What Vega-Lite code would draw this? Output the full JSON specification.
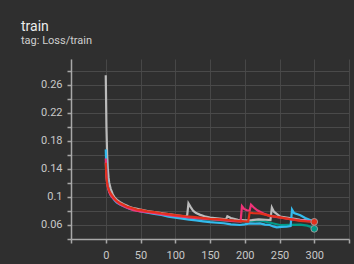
{
  "$schema": "https://vega.github.io/schema/vega-lite/v6.json",
  "width": 278,
  "height": 180,
  "autosize": {"type": "none"},
  "padding": {"left": 71, "top": 59, "right": 5, "bottom": 25},
  "background": "#2f2f2f",
  "config": {
    "font": "Roboto",
    "view": {"stroke": null},
    "axis": {
      "domainColor": "#a8a8a8",
      "domainWidth": 1.5,
      "tickColor": "#a8a8a8",
      "tickWidth": 1.5,
      "tickSize": 4,
      "gridColor": "#4a4a4a",
      "gridWidth": 1,
      "labelColor": "#c8c8c8",
      "labelFontSize": 11,
      "labelFont": "Roboto",
      "labelOverlap": false,
      "title": null
    }
  },
  "title": {
    "text": "train",
    "subtitle": "tag: Loss/train",
    "anchor": "start",
    "frame": "group",
    "dx": -50,
    "offset": 13,
    "fontSize": 14,
    "fontWeight": "normal",
    "color": "#ececec",
    "subtitleFontSize": 11,
    "subtitleColor": "#cfcfcf",
    "subtitlePadding": 1,
    "font": "Roboto",
    "subtitleFont": "Roboto"
  },
  "data": {
    "values": [
      {"run": "t", "step": 0, "loss": 0.15}, {"run": "t", "step": 1, "loss": 0.128}, {"run": "t", "step": 2, "loss": 0.12}, {"run": "t", "step": 3, "loss": 0.115}, {"run": "t", "step": 5, "loss": 0.108}, {"run": "t", "step": 10, "loss": 0.1}, {"run": "t", "step": 15, "loss": 0.095}, {"run": "t", "step": 20, "loss": 0.091}, {"run": "t", "step": 30, "loss": 0.086}, {"run": "t", "step": 40, "loss": 0.0825}, {"run": "t", "step": 50, "loss": 0.0805}, {"run": "t", "step": 60, "loss": 0.0785}, {"run": "t", "step": 70, "loss": 0.077}, {"run": "t", "step": 80, "loss": 0.0755}, {"run": "t", "step": 90, "loss": 0.074}, {"run": "t", "step": 100, "loss": 0.0725}, {"run": "t", "step": 120, "loss": 0.0705}, {"run": "t", "step": 140, "loss": 0.0685}, {"run": "t", "step": 160, "loss": 0.067}, {"run": "t", "step": 180, "loss": 0.0658}, {"run": "t", "step": 200, "loss": 0.065}, {"run": "t", "step": 210, "loss": 0.066}, {"run": "t", "step": 222, "loss": 0.0665}, {"run": "t", "step": 235, "loss": 0.0635}, {"run": "t", "step": 251, "loss": 0.06}, {"run": "t", "step": 265, "loss": 0.0602}, {"run": "t", "step": 280, "loss": 0.0605}, {"run": "t", "step": 290, "loss": 0.059}, {"run": "t", "step": 296, "loss": 0.057}, {"run": "t", "step": 300, "loss": 0.0545},

      {"run": "g", "step": 0, "loss": 0.274}, {"run": "g", "step": 1, "loss": 0.2}, {"run": "g", "step": 2, "loss": 0.16}, {"run": "g", "step": 3, "loss": 0.14}, {"run": "g", "step": 4, "loss": 0.128}, {"run": "g", "step": 5, "loss": 0.12}, {"run": "g", "step": 7, "loss": 0.112}, {"run": "g", "step": 10, "loss": 0.104}, {"run": "g", "step": 13, "loss": 0.099}, {"run": "g", "step": 16, "loss": 0.096}, {"run": "g", "step": 20, "loss": 0.093}, {"run": "g", "step": 25, "loss": 0.09}, {"run": "g", "step": 30, "loss": 0.088}, {"run": "g", "step": 35, "loss": 0.0855}, {"run": "g", "step": 40, "loss": 0.084}, {"run": "g", "step": 50, "loss": 0.082}, {"run": "g", "step": 60, "loss": 0.08}, {"run": "g", "step": 70, "loss": 0.0785}, {"run": "g", "step": 80, "loss": 0.077}, {"run": "g", "step": 90, "loss": 0.0755}, {"run": "g", "step": 100, "loss": 0.074}, {"run": "g", "step": 110, "loss": 0.0728}, {"run": "g", "step": 117, "loss": 0.0722}, {"run": "g", "step": 119, "loss": 0.091}, {"run": "g", "step": 122, "loss": 0.086}, {"run": "g", "step": 126, "loss": 0.08}, {"run": "g", "step": 130, "loss": 0.077}, {"run": "g", "step": 136, "loss": 0.0745}, {"run": "g", "step": 142, "loss": 0.0725}, {"run": "g", "step": 150, "loss": 0.0705}, {"run": "g", "step": 160, "loss": 0.0695}, {"run": "g", "step": 170, "loss": 0.0685}, {"run": "g", "step": 173, "loss": 0.068}, {"run": "g", "step": 175, "loss": 0.0725}, {"run": "g", "step": 180, "loss": 0.07}, {"run": "g", "step": 190, "loss": 0.0675}, {"run": "g", "step": 200, "loss": 0.0665}, {"run": "g", "step": 210, "loss": 0.067}, {"run": "g", "step": 220, "loss": 0.068}, {"run": "g", "step": 230, "loss": 0.0675}, {"run": "g", "step": 237, "loss": 0.067}, {"run": "g", "step": 239, "loss": 0.085}, {"run": "g", "step": 242, "loss": 0.079}, {"run": "g", "step": 246, "loss": 0.076}, {"run": "g", "step": 251, "loss": 0.072}, {"run": "g", "step": 260, "loss": 0.0705}, {"run": "g", "step": 270, "loss": 0.069}, {"run": "g", "step": 280, "loss": 0.0675}, {"run": "g", "step": 290, "loss": 0.067}, {"run": "g", "step": 300, "loss": 0.066},

      {"run": "c", "step": 0, "loss": 0.168}, {"run": "c", "step": 1, "loss": 0.14}, {"run": "c", "step": 2, "loss": 0.125}, {"run": "c", "step": 3, "loss": 0.117}, {"run": "c", "step": 4, "loss": 0.112}, {"run": "c", "step": 5, "loss": 0.108}, {"run": "c", "step": 7, "loss": 0.103}, {"run": "c", "step": 10, "loss": 0.099}, {"run": "c", "step": 13, "loss": 0.095}, {"run": "c", "step": 16, "loss": 0.092}, {"run": "c", "step": 20, "loss": 0.0895}, {"run": "c", "step": 25, "loss": 0.087}, {"run": "c", "step": 30, "loss": 0.085}, {"run": "c", "step": 35, "loss": 0.083}, {"run": "c", "step": 40, "loss": 0.082}, {"run": "c", "step": 50, "loss": 0.0795}, {"run": "c", "step": 60, "loss": 0.0775}, {"run": "c", "step": 70, "loss": 0.076}, {"run": "c", "step": 80, "loss": 0.0745}, {"run": "c", "step": 90, "loss": 0.072}, {"run": "c", "step": 100, "loss": 0.0705}, {"run": "c", "step": 110, "loss": 0.069}, {"run": "c", "step": 120, "loss": 0.0678}, {"run": "c", "step": 130, "loss": 0.0665}, {"run": "c", "step": 140, "loss": 0.0652}, {"run": "c", "step": 150, "loss": 0.064}, {"run": "c", "step": 160, "loss": 0.0632}, {"run": "c", "step": 170, "loss": 0.0625}, {"run": "c", "step": 180, "loss": 0.061}, {"run": "c", "step": 193, "loss": 0.06}, {"run": "c", "step": 200, "loss": 0.0608}, {"run": "c", "step": 207, "loss": 0.0622}, {"run": "c", "step": 215, "loss": 0.062}, {"run": "c", "step": 222, "loss": 0.0624}, {"run": "c", "step": 229, "loss": 0.0605}, {"run": "c", "step": 236, "loss": 0.06}, {"run": "c", "step": 241, "loss": 0.058}, {"run": "c", "step": 246, "loss": 0.0567}, {"run": "c", "step": 253, "loss": 0.0572}, {"run": "c", "step": 260, "loss": 0.0575}, {"run": "c", "step": 266, "loss": 0.0585}, {"run": "c", "step": 268, "loss": 0.082}, {"run": "c", "step": 271, "loss": 0.077}, {"run": "c", "step": 280, "loss": 0.074}, {"run": "c", "step": 287, "loss": 0.07}, {"run": "c", "step": 294, "loss": 0.067}, {"run": "c", "step": 300, "loss": 0.0665},

      {"run": "p", "step": 0, "loss": 0.155}, {"run": "p", "step": 1, "loss": 0.13}, {"run": "p", "step": 2, "loss": 0.12}, {"run": "p", "step": 3, "loss": 0.114}, {"run": "p", "step": 5, "loss": 0.107}, {"run": "p", "step": 7, "loss": 0.103}, {"run": "p", "step": 10, "loss": 0.099}, {"run": "p", "step": 15, "loss": 0.094}, {"run": "p", "step": 20, "loss": 0.09}, {"run": "p", "step": 30, "loss": 0.085}, {"run": "p", "step": 40, "loss": 0.081}, {"run": "p", "step": 50, "loss": 0.0795}, {"run": "p", "step": 60, "loss": 0.0785}, {"run": "p", "step": 70, "loss": 0.077}, {"run": "p", "step": 80, "loss": 0.0755}, {"run": "p", "step": 90, "loss": 0.074}, {"run": "p", "step": 100, "loss": 0.073}, {"run": "p", "step": 120, "loss": 0.071}, {"run": "p", "step": 140, "loss": 0.069}, {"run": "p", "step": 160, "loss": 0.0675}, {"run": "p", "step": 180, "loss": 0.066}, {"run": "p", "step": 194, "loss": 0.065}, {"run": "p", "step": 196, "loss": 0.087}, {"run": "p", "step": 199, "loss": 0.083}, {"run": "p", "step": 203, "loss": 0.081}, {"run": "p", "step": 207, "loss": 0.0805}, {"run": "p", "step": 209, "loss": 0.089}, {"run": "p", "step": 213, "loss": 0.085}, {"run": "p", "step": 218, "loss": 0.081}, {"run": "p", "step": 222, "loss": 0.079}, {"run": "p", "step": 229, "loss": 0.0755}, {"run": "p", "step": 236, "loss": 0.073}, {"run": "p", "step": 245, "loss": 0.0715}, {"run": "p", "step": 255, "loss": 0.07}, {"run": "p", "step": 265, "loss": 0.0685}, {"run": "p", "step": 280, "loss": 0.0665}, {"run": "p", "step": 300, "loss": 0.0648},

      {"run": "r", "step": 0, "loss": 0.149}, {"run": "r", "step": 1, "loss": 0.128}, {"run": "r", "step": 2, "loss": 0.12}, {"run": "r", "step": 3, "loss": 0.115}, {"run": "r", "step": 4, "loss": 0.112}, {"run": "r", "step": 5, "loss": 0.109}, {"run": "r", "step": 7, "loss": 0.105}, {"run": "r", "step": 10, "loss": 0.101}, {"run": "r", "step": 13, "loss": 0.097}, {"run": "r", "step": 16, "loss": 0.094}, {"run": "r", "step": 20, "loss": 0.0915}, {"run": "r", "step": 25, "loss": 0.089}, {"run": "r", "step": 30, "loss": 0.0865}, {"run": "r", "step": 35, "loss": 0.085}, {"run": "r", "step": 40, "loss": 0.0835}, {"run": "r", "step": 45, "loss": 0.082}, {"run": "r", "step": 50, "loss": 0.0815}, {"run": "r", "step": 60, "loss": 0.0795}, {"run": "r", "step": 70, "loss": 0.0785}, {"run": "r", "step": 80, "loss": 0.0768}, {"run": "r", "step": 90, "loss": 0.0755}, {"run": "r", "step": 100, "loss": 0.074}, {"run": "r", "step": 107, "loss": 0.0735}, {"run": "r", "step": 115, "loss": 0.0725}, {"run": "r", "step": 125, "loss": 0.0715}, {"run": "r", "step": 135, "loss": 0.0705}, {"run": "r", "step": 145, "loss": 0.0695}, {"run": "r", "step": 150, "loss": 0.0688}, {"run": "r", "step": 160, "loss": 0.0683}, {"run": "r", "step": 170, "loss": 0.0676}, {"run": "r", "step": 180, "loss": 0.0668}, {"run": "r", "step": 190, "loss": 0.066}, {"run": "r", "step": 200, "loss": 0.0653}, {"run": "r", "step": 205, "loss": 0.065}, {"run": "r", "step": 207, "loss": 0.0775}, {"run": "r", "step": 212, "loss": 0.077}, {"run": "r", "step": 222, "loss": 0.0765}, {"run": "r", "step": 235, "loss": 0.0735}, {"run": "r", "step": 251, "loss": 0.071}, {"run": "r", "step": 265, "loss": 0.0685}, {"run": "r", "step": 280, "loss": 0.066}, {"run": "r", "step": 290, "loss": 0.065}, {"run": "r", "step": 300, "loss": 0.0645}
    ]
  },
  "encoding": {
    "x": {
      "field": "step", "type": "quantitative",
      "scale": {"domain": [-50, 350], "nice": false, "zero": false},
      "axis": {
        "values": [-50, 0, 50, 100, 150, 200, 250, 300, 350],
        "labelExpr": "datum.value < 0 || datum.value > 300 ? '' : datum.label",
        "labelPadding": 6,
        "gridColor": "#474747"
      }
    },
    "y": {
      "field": "loss", "type": "quantitative",
      "scale": {"domain": [0.04, 0.2971], "nice": false, "zero": false},
      "axis": {
        "values": [0.04, 0.06, 0.08, 0.1, 0.12, 0.14, 0.16, 0.18, 0.2, 0.22, 0.24, 0.26, 0.28],
        "format": ".2~f",
        "labelExpr": "(round(datum.value * 100) % 4 == 2) ? datum.label : ''",
        "labelPadding": 5
      }
    }
  },
  "layer": [
    {
      "mark": {"type": "rule", "color": "#8c8c8c", "strokeWidth": 2},
      "data": {"values": [{"step": 0}]},
      "encoding": {
        "y": {"datum": 0.04, "type": "quantitative"},
        "y2": {"datum": 0.2971}
      }
    },
    {
      "mark": {"type": "line", "strokeWidth": 2.2, "clip": true},
      "encoding": {
        "color": {
          "field": "run", "type": "nominal", "legend": null,
          "scale": {"domain": ["t", "g", "c", "p", "r"], "range": ["#009988", "#bbbbbb", "#33bbee", "#ee3377", "#e2301c"]}
        },
        "detail": {"field": "run"}
      }
    },
    {
      "transform": [{"filter": "datum.step == 300 && (datum.run == 'r' || datum.run == 't')"}],
      "mark": {"type": "point", "filled": true, "size": 45, "stroke": "#9a9a9a", "strokeWidth": 1, "opacity": 1},
      "encoding": {
        "fill": {"field": "run", "type": "nominal", "legend": null, "scale": {"domain": ["t", "g", "c", "p", "r"], "range": ["#009988", "#bbbbbb", "#33bbee", "#ee3377", "#e2301c"]}}
      }
    }
  ]
}
